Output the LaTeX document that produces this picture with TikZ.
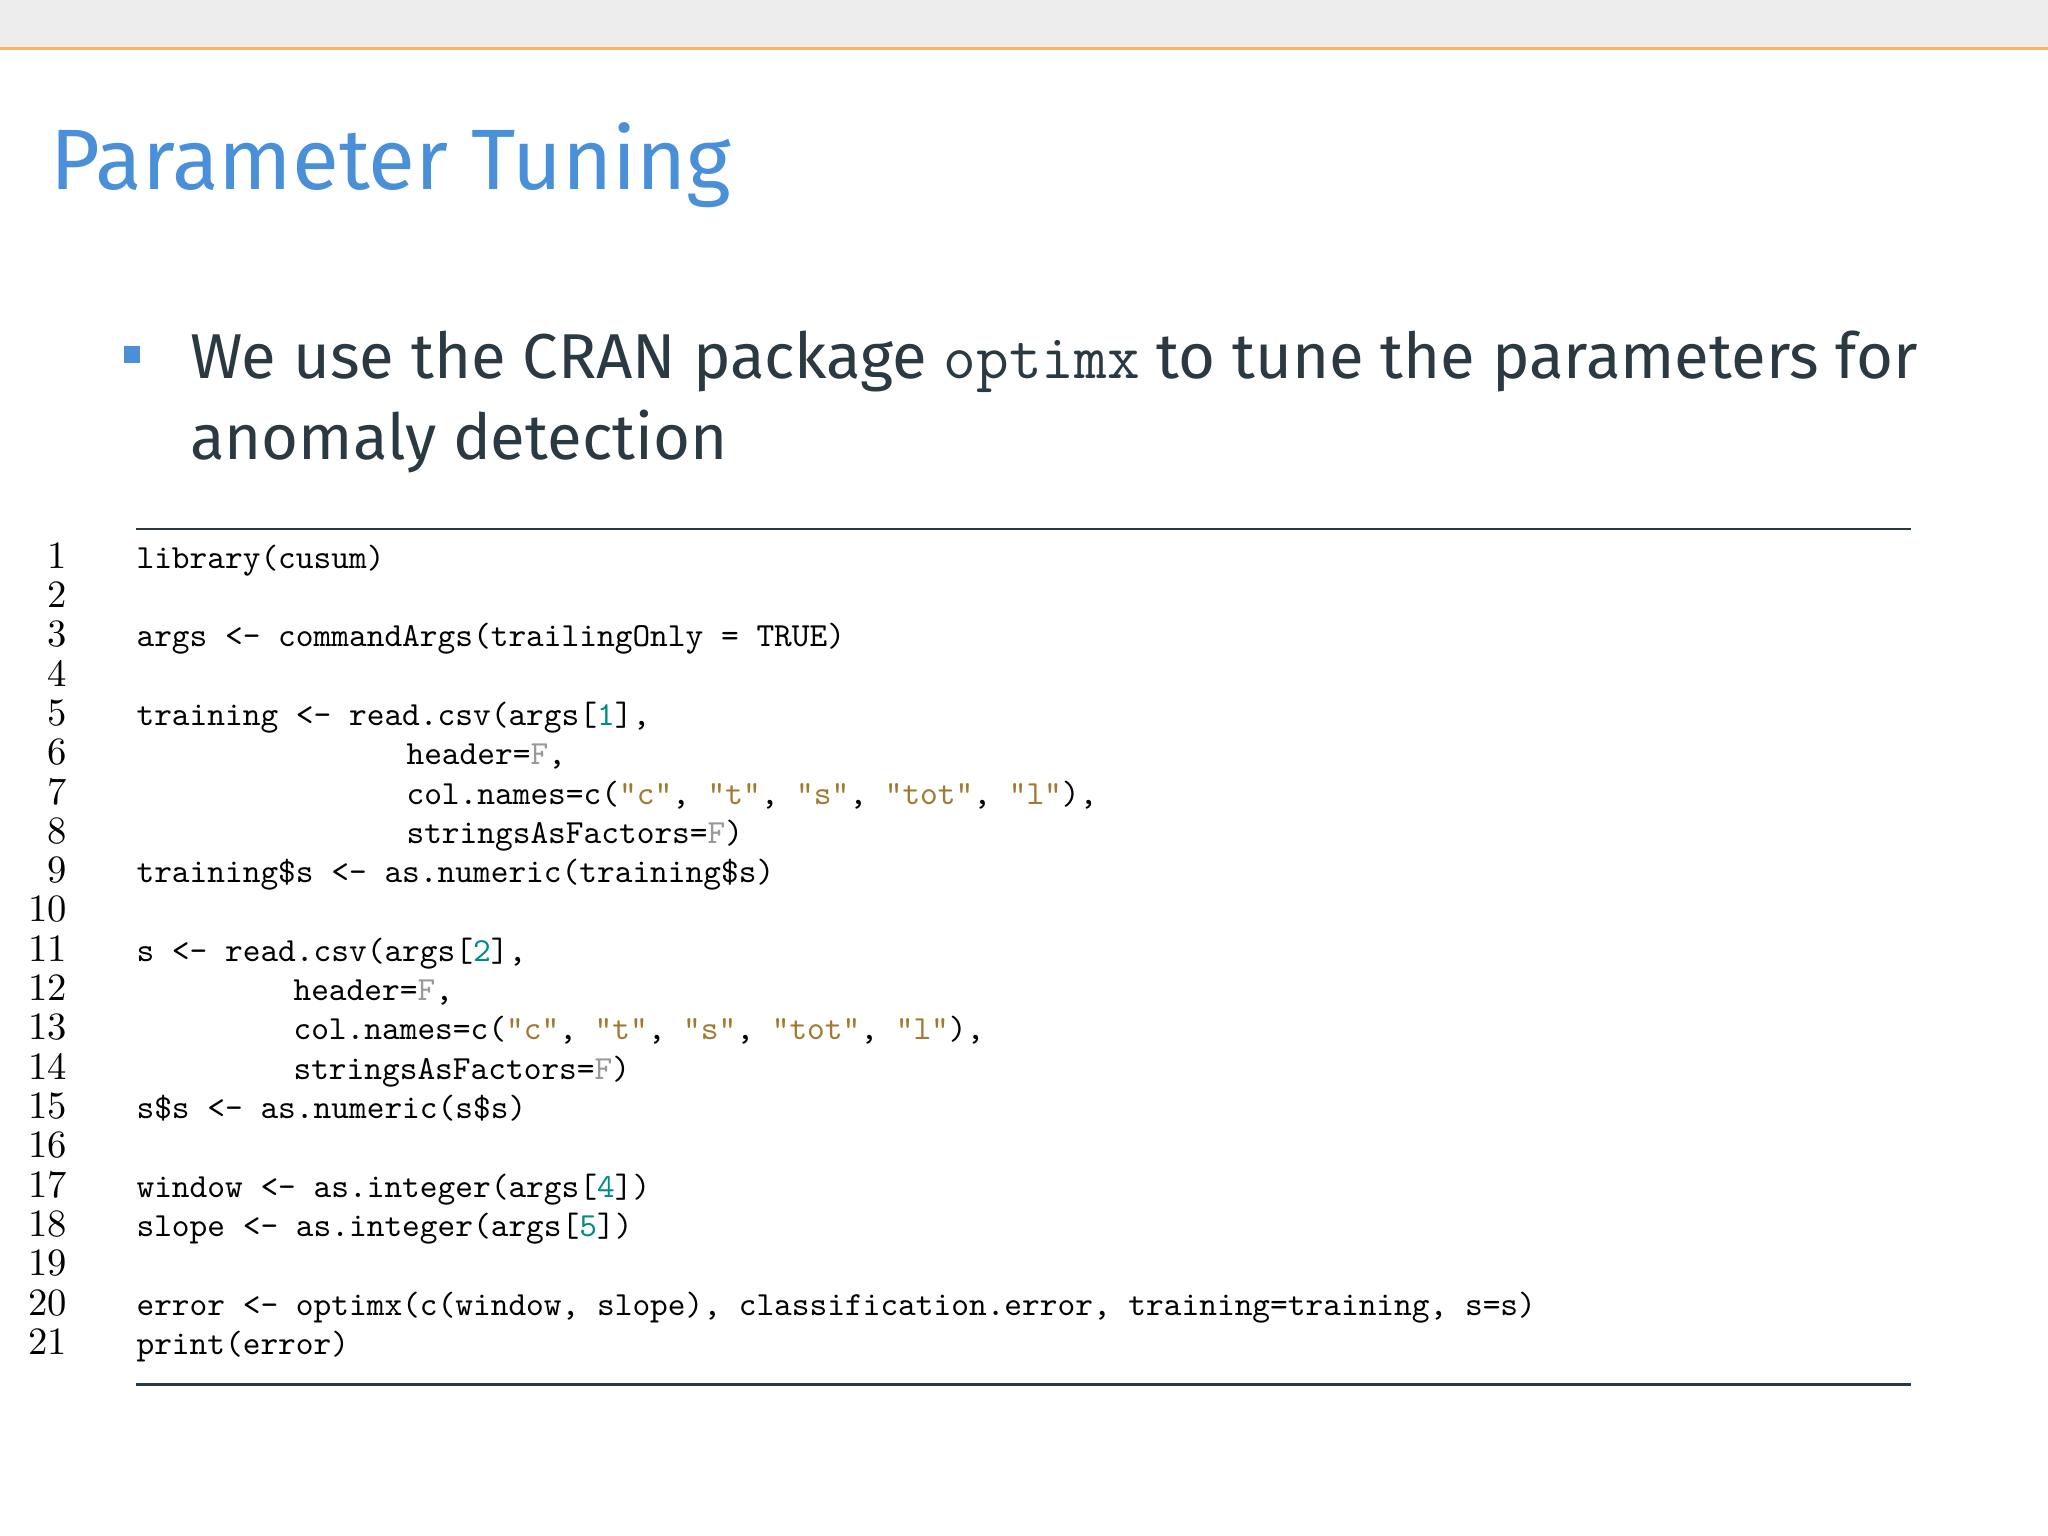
\documentclass[tikz,border=0pt]{standalone}
\usepackage{fontspec}
\setmainfont{Fira Sans}
\definecolor{titleblue}{HTML}{4A90D9}
\definecolor{txt}{HTML}{2B3A42}
\definecolor{numc}{HTML}{008B8B}
\definecolor{strc}{HTML}{A07A30}
\definecolor{grayc}{HTML}{999999}
\newcommand{\cN}[1]{\textcolor{numc}{#1}}
\newcommand{\cS}[1]{\textcolor{strc}{#1}}
\newcommand{\cF}{\textcolor{grayc}{F}}
\tikzset{
 lnum/.style={anchor=base east,inner sep=0pt,font=\rmfamily\fontsize{11}{11}\selectfont\setmainfont{Latin Modern Roman}},
 code/.style={anchor=base west,inner sep=0pt,font=\ttfamily\fontsize{9.6}{9.6}\selectfont},
 body/.style={anchor=base west,inner sep=0pt,text=txt,font=\fontsize{18.05}{18.05}\selectfont},
}
\begin{document}
\begin{tikzpicture}
\useasboundingbox (0,0) rectangle (20.48,-15.36);
\fill[white] (0,0) rectangle (20.48,-15.36);
\begin{scope}[x=0.01306cm,y=-0.01306cm]
\fill[black!7] (0,0) rectangle (1568,37);
\draw[orange!60,line width=0.8pt] (0,37) -- (1568,37);
\node[anchor=base west,inner sep=0pt,text=titleblue,font=\fontsize{24.4}{24.4}\selectfont] (title) at (38,145) {Parameter Tuning};
\fill[titleblue] (95,265) rectangle (107,278);
\node[body] (l1) at (145,290) {We use the CRAN package \texttt{optimx} to tune the parameters for};
\node[body] (l2) at (145,352) {anomaly detection};
\draw[txt,line width=0.8pt] (104,405) -- (1463,405);
\draw[txt,line width=0.8pt] (104,1060) -- (1463,1060);
\foreach \i in {1,...,21}{
  \node[lnum] (n\i) at (52,{435+30.1*(\i-1)}) {\i};
}
\newcommand{\cl}[2]{\node[code] (c#1) at (104,{435+30.1*(#1-1)}) {#2};}
\newcommand{\ind}[1]{\hspace*{#1}}
\cl{1}{library(cusum)}
\cl{3}{args <- commandArgs(trailingOnly = TRUE)}
\cl{5}{training <- read.csv(args[\cN{1}],}
\cl{6}{\ind{2.7cm}header=\cF,}
\cl{7}{\ind{2.7cm}col.names=c(\cS{"c"}, \cS{"t"}, \cS{"s"}, \cS{"tot"}, \cS{"l"}),}
\cl{8}{\ind{2.7cm}stringsAsFactors=\cF)}
\cl{9}{training\$s <- as.numeric(training\$s)}
\cl{11}{s <- read.csv(args[\cN{2}],}
\cl{12}{\ind{1.57cm}header=\cF,}
\cl{13}{\ind{1.57cm}col.names=c(\cS{"c"}, \cS{"t"}, \cS{"s"}, \cS{"tot"}, \cS{"l"}),}
\cl{14}{\ind{1.57cm}stringsAsFactors=\cF)}
\cl{15}{s\$s <- as.numeric(s\$s)}
\cl{17}{window <- as.integer(args[\cN{4}])}
\cl{18}{slope <- as.integer(args[\cN{5}])}
\cl{20}{error <- optimx(c(window, slope), classification.error, training=training, s=s)}
\cl{21}{print(error)}
\end{scope}
\end{tikzpicture}
\end{document}
